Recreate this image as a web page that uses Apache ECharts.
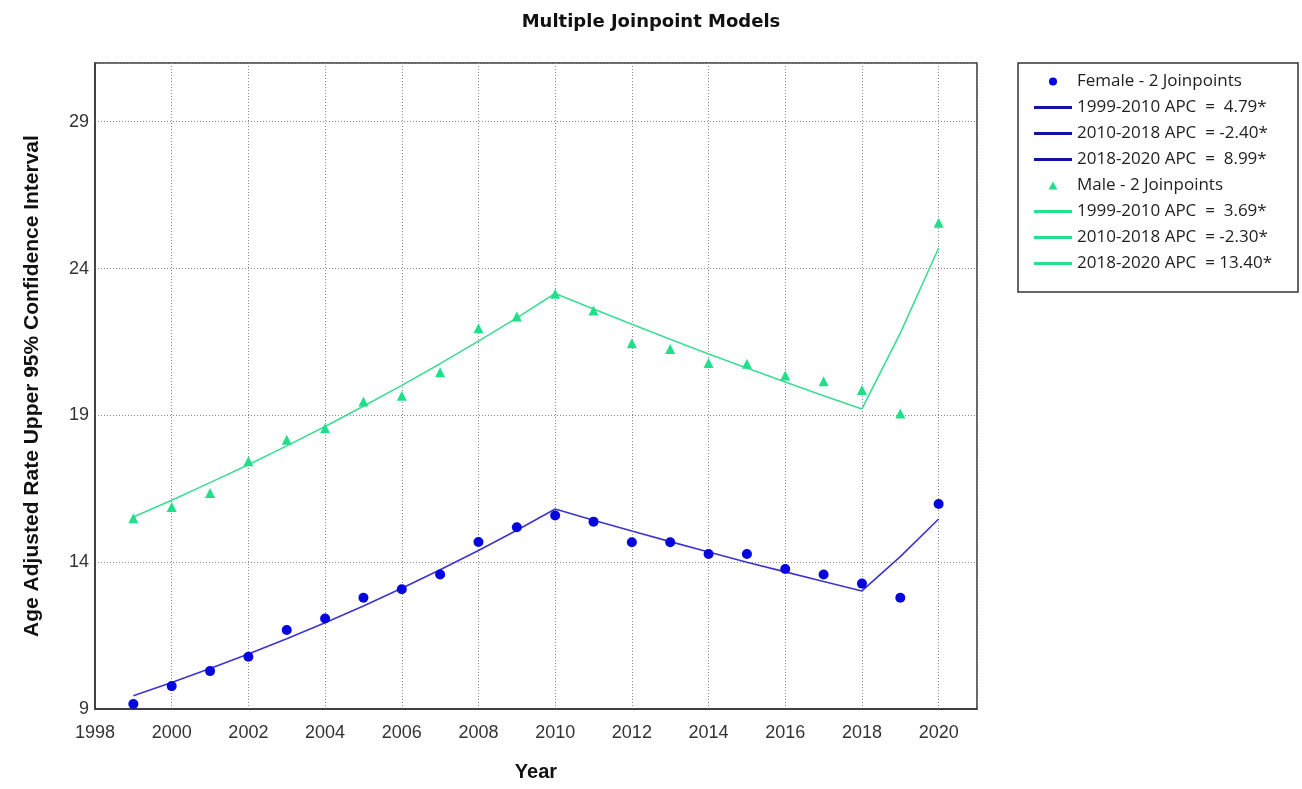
<!DOCTYPE html>
<html>
<head>
<meta charset="utf-8">
<title>Multiple Joinpoint Models</title>
<script src="https://cdn.jsdelivr.net/npm/echarts@6/dist/echarts.min.js"></script>
<style>
  html, body { margin: 0; padding: 0; background: #fff; }
  #main { width: 1302px; height: 789px; }
</style>
</head>
<body>
<div id="main"></div>
<script>
// observed and fitted (joinpoint) values per year
var years = [1999, 2000, 2001, 2002, 2003, 2004, 2005, 2006, 2007, 2008, 2009,
  2010, 2011, 2012, 2013, 2014, 2015, 2016, 2017, 2018, 2019, 2020];

var femaleObserved = [9.17, 9.78, 10.29, 10.78, 11.69, 12.08, 12.79, 13.08, 13.58, 14.69, 15.19,
  15.59, 15.38, 14.68, 14.68, 14.28, 14.28, 13.77, 13.58, 13.27, 12.79, 15.98];
var femaleFitted = [9.45, 9.90, 10.38, 10.87, 11.39, 11.94, 12.51, 13.11, 13.74, 14.40, 15.09,
  15.81, 15.43, 15.06, 14.70, 14.35, 14.00, 13.67, 13.34, 13.02, 14.19, 15.47];

var maleObserved = [15.5, 15.88, 16.36, 17.44, 18.17, 18.56, 19.47, 19.67, 20.47, 21.97, 22.37,
  23.14, 22.57, 21.46, 21.26, 20.78, 20.76, 20.36, 20.16, 19.86, 19.06, 25.56];
var maleFitted = [15.54, 16.11, 16.71, 17.32, 17.96, 18.62, 19.31, 20.02, 20.76, 21.53, 22.32,
  23.15, 22.62, 22.10, 21.59, 21.09, 20.61, 20.14, 19.67, 19.22, 21.80, 24.70];

// segment start/end index in years, and their legend names
var segments = [[0, 11], [11, 19], [19, 21]];
var femaleSegNames = ["1999-2010 APC  =  4.79*", "2010-2018 APC  = -2.40*", "2018-2020 APC  =  8.99*"];
var maleSegNames = ["1999-2010 APC  =  3.69*", "2010-2018 APC  = -2.30*", "2018-2020 APC  = 13.40*"];

var yTicks = [9, 14, 19, 24, 29];

var femaleDot = "#0505e0";
var femaleLine = "#3d34d0";
var femaleLegendLine = "#1212a6";
var maleDot = "#1fdf8a";
var maleLine = "#3ddd92";
var maleLegendLine = "#22e08c";

var lineIcon = "path://M0,0 L38,0 L38,3 L0,3 Z";

function pairs(vals, from, to) {
  var out = [];
  for (var i = from; i <= to; i++) {
    out.push([years[i], vals[i]]);
  }
  return out;
}

var series = [];
var legendData = [];

legendData.push({ name: "Female - 2 Joinpoints", icon: "circle" });
femaleSegNames.forEach(function (n) {
  legendData.push({ name: n, icon: lineIcon, itemStyle: { color: femaleLegendLine } });
});
legendData.push({ name: "Male - 2 Joinpoints", icon: "path://M5,0 L10,9 L0,9 Z" });
maleSegNames.forEach(function (n) {
  legendData.push({ name: n, icon: lineIcon, itemStyle: { color: maleLegendLine } });
});

segments.forEach(function (s, k) {
  series.push({
    name: femaleSegNames[k],
    type: "line",
    symbol: "none",
    z: 2,
    lineStyle: { color: femaleLine, width: 1.6 },
    itemStyle: { color: femaleLegendLine },
    data: pairs(femaleFitted, s[0], s[1]),
  });
  series.push({
    name: maleSegNames[k],
    type: "line",
    symbol: "none",
    z: 2,
    lineStyle: { color: maleLine, width: 1.6 },
    itemStyle: { color: maleLegendLine },
    data: pairs(maleFitted, s[0], s[1]),
  });
});

series.push({
  name: "Female - 2 Joinpoints",
  type: "scatter",
  symbol: "circle",
  symbolSize: 10,
  z: 5,
  itemStyle: { color: femaleDot, opacity: 1 },
  data: pairs(femaleObserved, 0, years.length - 1),
});
series.push({
  name: "Male - 2 Joinpoints",
  type: "scatter",
  symbol: "triangle",
  symbolSize: 10,
  z: 5,
  itemStyle: { color: maleDot, opacity: 1 },
  data: pairs(maleObserved, 0, years.length - 1),
});

var option = {
  backgroundColor: "#fff",
  animation: false,
  textStyle: { fontFamily: "Liberation Sans, Arial, sans-serif" },
  title: {
    text: "Multiple Joinpoint Models",
    left: "center",
    top: 8,
    textStyle: { fontSize: 18, fontWeight: "bold", color: "#111", fontFamily: "DejaVu Sans" },
  },
  grid: {
    left: 95,
    right: 325,
    top: 63,
    bottom: 80,
    show: true,
    borderColor: "#333",
    borderWidth: 1.5,
  },
  legend: {
    orient: "vertical",
    left: 1034,
    top: 73,
    padding: 0,
    itemWidth: 38,
    itemHeight: 8,
    itemGap: 9,
    symbolKeepAspect: true,
    selectedMode: false,
    textStyle: { fontSize: 17, color: "#222", lineHeight: 16, fontFamily: "Open Sans" },
    data: legendData,
  },
  graphic: [
    {
      type: "rect",
      shape: { x: 1018, y: 63, width: 280, height: 229 },
      style: { fill: "none", stroke: "#333", lineWidth: 1.5 },
    },
  ],
  xAxis: {
    type: "value",
    min: 1998,
    max: 2021,
    interval: 2,
    name: "Year",
    nameLocation: "middle",
    nameGap: 53,
    nameTextStyle: { fontSize: 20, fontWeight: "bold", color: "#111" },
    axisLine: { show: true, onZero: false, lineStyle: { color: "#333", width: 1.5 } },
    axisTick: { show: false },
    axisLabel: {
      fontSize: 18,
      color: "#333",
      margin: 15,
      showMaxLabel: false,
      formatter: function (v) { return String(v); },
    },
    splitLine: { show: true, lineStyle: { color: "#888", type: [1, 2], width: 1 } },
  },
  yAxis: {
    type: "value",
    min: yTicks[0],
    max: 31,
    interval: yTicks[1] - yTicks[0],
    name: "Age Adjusted Rate Upper 95% Confidence Interval",
    nameLocation: "middle",
    nameGap: 52,
    nameTextStyle: { fontSize: 21, fontWeight: "bold", color: "#111" },
    axisLine: { show: true, lineStyle: { color: "#333", width: 1.5 } },
    axisTick: { show: false },
    axisLabel: { fontSize: 18, color: "#333", margin: 6, showMaxLabel: false },
    splitLine: { show: true, lineStyle: { color: "#888", type: [1, 2], width: 1 } },
  },
  series: series,
};

var chart = echarts.init(document.getElementById("main"));
chart.setOption(option);
</script>
</body>
</html>
